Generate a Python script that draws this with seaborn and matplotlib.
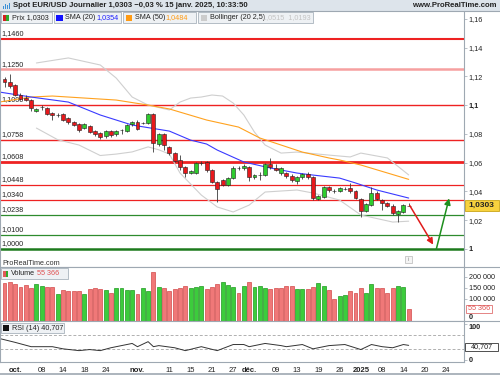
import numpy as np
import pandas as pd
import matplotlib
matplotlib.use("Agg")
from matplotlib import pyplot as plt
from matplotlib.patches import Rectangle
import seaborn as sns

### data ###
# daily EUR/USD candles, 27 sept. 2024 -> 15 janv. 2025 (no 25 dec / 1 jan session)
opens = [1.1182, 1.1162, 1.1141, 1.1071, 1.1050, 1.1036, 1.0960, 1.0985, 1.0981, 1.0946,
         1.0934, 1.0939, 1.0911, 1.0883, 1.0869, 1.0841, 1.0855, 1.0820, 1.0807, 1.0786,
         1.0820, 1.0800, 1.0825, 1.0820, 1.0869, 1.0883, 1.0874, 1.0876, 1.0939, 1.0730,
         1.0800, 1.0709, 1.0667, 1.0619, 1.0570, 1.0528, 1.0528, 1.0595, 1.0605, 1.0549,
         1.0466, 1.0479, 1.0445, 1.0493, 1.0560, 1.0563, 1.0570, 1.0500, 1.0512, 1.0514,
         1.0591, 1.0563, 1.0528, 1.0528, 1.0507, 1.0472, 1.0500, 1.0521, 1.0500, 1.0347,
         1.0361, 1.0431, 1.0401, 1.0403, 1.0415, 1.0424, 1.0403, 1.0347, 1.0264, 1.0305,
         1.0389, 1.0340, 1.0319, 1.0298, 1.0243, 1.0257, 1.0300]
highs = [1.1196, 1.1217, 1.1148, 1.1085, 1.1071, 1.1043, 1.0981, 1.1001, 1.0988, 1.0953,
         1.0946, 1.0946, 1.0918, 1.0890, 1.0876, 1.0876, 1.0862, 1.0827, 1.0814, 1.0827,
         1.0827, 1.0827, 1.0834, 1.0869, 1.0890, 1.0897, 1.0883, 1.0946, 1.0946, 1.0807,
         1.0807, 1.0716, 1.0674, 1.0653, 1.0577, 1.0549, 1.0605, 1.0612, 1.0612, 1.0556,
         1.0472, 1.0486, 1.0500, 1.0577, 1.0577, 1.0591, 1.0577, 1.0521, 1.0535, 1.0598,
         1.0633, 1.0591, 1.0570, 1.0535, 1.0521, 1.0507, 1.0528, 1.0535, 1.0507, 1.0375,
         1.0438, 1.0438, 1.0417, 1.0431, 1.0431, 1.0459, 1.0410, 1.0354, 1.0319, 1.0431,
         1.0403, 1.0347, 1.0326, 1.0312, 1.0271, 1.0312, 1.0319]
lows = [1.1127, 1.1120, 1.1064, 1.1036, 1.1029, 1.0960, 1.0953, 1.0967, 1.0932, 1.0897,
        1.0918, 1.0890, 1.0869, 1.0855, 1.0814, 1.0834, 1.0807, 1.0786, 1.0765, 1.0772,
        1.0779, 1.0786, 1.0800, 1.0814, 1.0855, 1.0827, 1.0869, 1.0869, 1.0674, 1.0716,
        1.0688, 1.0653, 1.0605, 1.0549, 1.0500, 1.0521, 1.0521, 1.0584, 1.0535, 1.0459,
        1.0326, 1.0438, 1.0438, 1.0486, 1.0549, 1.0549, 1.0472, 1.0486, 1.0479, 1.0507,
        1.0556, 1.0542, 1.0514, 1.0493, 1.0466, 1.0452, 1.0486, 1.0486, 1.0340, 1.0340,
        1.0354, 1.0396, 1.0389, 1.0396, 1.0410, 1.0389, 1.0347, 1.0222, 1.0257, 1.0298,
        1.0340, 1.0271, 1.0292, 1.0236, 1.0187, 1.0250, 1.0298]
closes = [1.1162, 1.1134, 1.1071, 1.1043, 1.1036, 1.0981, 1.0974, 1.0988, 1.0939, 1.0932,
          1.0932, 1.0897, 1.0883, 1.0862, 1.0827, 1.0869, 1.0814, 1.0800, 1.0779, 1.0820,
          1.0793, 1.0820, 1.0827, 1.0862, 1.0883, 1.0834, 1.0876, 1.0939, 1.0737, 1.0800,
          1.0723, 1.0667, 1.0612, 1.0570, 1.0528, 1.0542, 1.0598, 1.0598, 1.0549, 1.0466,
          1.0417, 1.0445, 1.0493, 1.0563, 1.0563, 1.0577, 1.0500, 1.0514, 1.0514, 1.0591,
          1.0570, 1.0549, 1.0563, 1.0507, 1.0479, 1.0500, 1.0521, 1.0500, 1.0354, 1.0368,
          1.0431, 1.0410, 1.0403, 1.0424, 1.0417, 1.0403, 1.0354, 1.0264, 1.0312, 1.0389,
          1.0347, 1.0319, 1.0298, 1.0250, 1.0264, 1.0305, 1.0303]
volumes = [171200, 175700, 166650, 153000, 163600, 148500, 166650, 160600, 153000, 156000,
           121200, 139400, 137900, 136400, 137900, 121200, 145400, 151500, 145400, 139400,
           128800, 151500, 151500, 139400, 139400, 122700, 151500, 136400, 221200, 156000,
           148500, 137900, 145400, 148500, 160600, 148500, 156000, 160600, 145400, 153000,
           166650, 175700, 162100, 153000, 125700, 160600, 175700, 156000, 159000, 148500,
           143900, 151500, 148500, 160600, 160600, 143900, 145400, 145400, 153000, 171200,
           160600, 140900, 100000, 113600, 118200, 136400, 125700, 148500, 128800, 168200,
           148500, 148500, 125700, 151500, 160600, 153000, 55366]
vol_colors = ("rrrrrr" "gg" "rr" "g" "rrrr" "g" "rrr" "g" "r" "gggg" "r" "gg" "r" "g"
              "rrrrr" "ggg" "rrr" "ggg" "r" "g" "r" "ggg" "rrrrr" "gg" "rr" "gg" "rr"
              "gg" "rrr" "gg" "rrrr" "gg" "r")

# indicators at a few sessions (session index, value)
sma20_x = [-1, 5, 12, 18, 24, 31, 35, 38, 40, 45, 50, 55, 58, 63, 66, 70, 76]
sma20_y = [1.1092, 1.1057, 1.1022, 1.0932, 1.0862, 1.0820, 1.0757, 1.0730, 1.0688, 1.0605,
           1.0563, 1.0528, 1.0514, 1.0493, 1.0459, 1.0410, 1.0354]
sma50_x = [-1, 5, 9, 15, 21, 27, 31, 38, 44, 48, 52, 56, 61, 63, 67, 76]
sma50_y = [1.1022, 1.1057, 1.1064, 1.1050, 1.1036, 1.1001, 1.0974, 1.0897, 1.0848, 1.0772,
           1.0723, 1.0674, 1.0633, 1.0619, 1.0584, 1.0484]
boll_up_x = [6, 12, 18, 21, 24, 27, 31, 33, 35, 37, 39, 41, 43, 45, 47, 49, 52, 55, 61, 65,
             67, 72, 76]
boll_up_y = [1.1294, 1.1329, 1.1280, 1.1189, 1.1057, 1.1001, 1.0967, 1.1022, 1.1050, 1.1057,
             1.1071, 1.1064, 1.1015, 1.0932, 1.0813, 1.0723, 1.0667, 1.0674, 1.0653, 1.0640,
             1.0667, 1.0633, 1.0515]
boll_lo_x = [6, 10, 14, 18, 21, 24, 27, 29, 31, 33, 37, 40, 43, 46, 49, 55, 58, 63, 67, 73, 76]
boll_lo_y = [1.0841, 1.0760, 1.0723, 1.0650, 1.0660, 1.0675, 1.0710, 1.0690, 1.0660, 1.0528,
             1.0375, 1.0292, 1.0257, 1.0305, 1.0396, 1.0410, 1.0389, 1.0340, 1.0236, 1.0187,
             1.0193]
rsi_x = [-1, 2, 5, 9, 11, 14, 16, 18, 20, 24, 25, 27, 28, 29, 32, 34, 37, 40, 43, 45, 46, 49,
         52, 53, 56, 58, 61, 64, 67, 69, 71, 73, 75, 76]
rsi_y = [60, 49, 37, 37, 31, 26, 29, 26, 34, 46, 37, 51, 37, 40, 34, 26, 37, 26, 43, 43, 37,
         46, 40, 37, 43, 31, 40, 43, 29, 43, 37, 34, 43, 40.707]

# support / resistance lines drawn by the user
levels = [1.1460, 1.1250, 1.1000, 1.0758, 1.0608, 1.0448, 1.0340, 1.0238, 1.0100, 1.0000]
level_labels = ["1,1460", "1,1250", "1,1000", "1,0758", "1,0608", "1,0448", "1,0340",
                "1,0238", "1,0100", "1,0000"]
level_colors = ["#ee2222", "#f6a0a0", "#ee2222", "#ee2222", "#ee2222", "#ee2222", "#ee2222",
                "#2e8b2e", "#2e8b2e", "#1d7a1d"]
level_widths = [1.5, 1.8, 1.0, 1.0, 2.0, 0.9, 0.9, 0.9, 0.9, 1.8]

tick_dates = ["2024-10-01", "2024-10-08", "2024-10-14", "2024-10-18", "2024-10-24",
              "2024-11-01", "2024-11-11", "2024-11-15", "2024-11-21", "2024-11-27",
              "2024-12-02", "2024-12-09", "2024-12-13", "2024-12-19", "2024-12-26",
              "2025-01-02", "2025-01-08", "2025-01-14", "2025-01-20", "2025-01-24"]
tick_labels = ["oct.", "08", "14", "18", "24", "nov.", "11", "15", "21", "27", "déc.", "09",
               "13", "19", "26", "2025", "08", "14", "20", "24"]

### style ###
sns.set_style("white")
plt.rcParams['font.family'] = ['Liberation Sans', 'DejaVu Sans']
GRID = "#9ea8b2"
TXT = "#222222"
FS = 5.2

sessions = pd.bdate_range("2024-09-27", "2025-02-07")
sessions = sessions[~sessions.isin(pd.to_datetime(["2024-12-25", "2025-01-01"]))]
tick_pos = [sessions.get_loc(pd.Timestamp(d)) for d in tick_dates]

o = np.array(opens); h = np.array(highs); l = np.array(lows); c = np.array(closes)
idx = np.arange(len(c))
XLIM = (-0.85, 86.4)

fig = plt.figure(figsize=(5, 3.75), dpi=100)

def px(left, top, right, bottom):
    return [left / 500, 1 - bottom / 375, (right - left) / 500, (bottom - top) / 375]

ax_p = fig.add_axes(px(0, 11, 464, 267))
ax_v = fig.add_axes(px(0, 267, 464, 321))
ax_r = fig.add_axes(px(0, 321, 464, 362))

### price panel ###
for lv, lc, lw, lab in zip(levels, level_colors, level_widths, level_labels):
    ax_p.axhline(lv, color=lc, lw=lw, zorder=1)
    ax_p.text(0.004, lv + 0.0012, lab, transform=ax_p.get_yaxis_transform(),
              fontsize=FS, color=TXT, va='bottom', ha='left', zorder=2)

sns.lineplot(x=boll_up_x, y=boll_up_y, ax=ax_p, color="#cfcfcf", lw=0.8, zorder=2)
sns.lineplot(x=boll_lo_x, y=boll_lo_y, ax=ax_p, color="#cfcfcf", lw=0.8, zorder=2)
sns.lineplot(x=sma50_x, y=sma50_y, ax=ax_p, color="#ffa21f", lw=0.8, zorder=2)
sns.lineplot(x=sma20_x, y=sma20_y, ax=ax_p, color="#3a3aff", lw=0.8, zorder=2)

doji = np.abs(c - o) < 0.0004
body_lo = np.minimum(o, c)
body_h = np.where(doji, 0.00012, np.abs(c - o))
body_col = np.where(doji, "#222222", np.where(c > o, "#2ecc2e", "#e8181c"))
ax_p.vlines(idx, l, h, color="#3a3a3a", lw=0.6, zorder=3)
ax_p.bar(idx, body_h, bottom=body_lo, width=0.74, color=body_col,
         edgecolor="#202020", lw=0.4, zorder=4)

ax_p.annotate("", xy=(80.6, 1.0030), xytext=(76.2, 1.0302),
              arrowprops=dict(arrowstyle="-|>", color="#e01b1b", lw=1.1, mutation_scale=9,
                              shrinkA=0, shrinkB=0), zorder=5)
ax_p.annotate("", xy=(83.6, 1.0352), xytext=(81.2, 1.0000),
              arrowprops=dict(arrowstyle="-|>", color="#1e8f1e", lw=1.1, mutation_scale=9,
                              shrinkA=0, shrinkB=0), zorder=5)

ax_p.set_xlim(*XLIM)
ax_p.set_ylim(0.98742, 1.16557)
ax_p.yaxis.tick_right()
pticks = [1.0, 1.02, 1.04, 1.06, 1.08, 1.10, 1.12, 1.14, 1.16]
ax_p.set_yticks(pticks)
ax_p.set_yticklabels(["1", "1,02", "1,04", "1,06", "1,08", "1,1", "1,12", "1,14", "1,16"])
for t in ax_p.get_yticklabels():
    if t.get_text() in ("1", "1,1"):
        t.set_fontweight("bold")
ax_p.set_xticks([])

### volume panel ###
vcol = ["#3ccc3c" if k == "g" else "#f07878" for k in vol_colors]
vedge = ["#1f9a1f" if k == "g" else "#d24a4a" for k in vol_colors]
ax_v.bar(idx, volumes, width=0.74, color=vcol, edgecolor=vedge, lw=0.5, zorder=3)
ax_v.set_xlim(*XLIM)
ax_v.set_ylim(0, 245400)
ax_v.yaxis.tick_right()
ax_v.set_yticks([0, 100000, 150000, 200000])
ax_v.set_yticklabels(["0", "100 000", "150 000", "200 000"])
vzero = ax_v.get_yticklabels()[0]
vzero.set_fontweight("bold")
vzero.set_verticalalignment("bottom")
ax_v.set_xticks([])

### RSI panel ###
ax_r.axhline(70, color="#b0b0b0", lw=0.7, ls=(0, (3, 2)))
ax_r.axhline(30, color="#b0b0b0", lw=0.7, ls=(0, (3, 2)))
sns.lineplot(x=rsi_x, y=rsi_y, ax=ax_r, color="#333333", lw=0.7)
ax_r.set_xlim(*XLIM)
ax_r.set_ylim(-5.7, 108.6)
ax_r.yaxis.tick_right()
ax_r.set_yticks([0, 100])
ax_r.set_yticklabels(["0", "100"], fontweight="bold")
ax_r.get_yticklabels()[1].set_verticalalignment("top")
ax_r.set_xticks(tick_pos)
ax_r.set_xticklabels(tick_labels)
for t in ax_r.get_xticklabels():
    if not t.get_text().isdigit() or t.get_text() == "2025":
        t.set_fontweight("bold")

for ax in (ax_p, ax_v, ax_r):
    ax.set_facecolor("white")
    ax.set_xlabel(""); ax.set_ylabel("")
    ax.tick_params(axis="y", labelsize=FS, length=2, width=0.5, color=GRID, pad=1.5,
                   labelcolor=TXT)
    ax.tick_params(axis="x", labelsize=FS + 0.3, length=2, width=0.5, color=GRID, pad=1.5,
                   labelcolor=TXT)
    for s in ax.spines.values():
        s.set_color(GRID)
        s.set_linewidth(0.8)
    ax.spines["top"].set_visible(False)

### overlay: header, legends, value boxes ###
ov = fig.add_axes([0, 0, 1, 1])
ov.set_xlim(0, 500); ov.set_ylim(375, 0)
ov.axis("off")
ov.patch.set_alpha(0)
ov.set_zorder(10)

ov.add_patch(Rectangle((0, 0), 500, 10.5, color="#dde4eb", lw=0))
ov.plot([0, 500], [10.5, 10.5], color=GRID, lw=0.8)
for bx, bh in zip([2.5, 4.5, 6.5, 8.5], [3, 5, 4, 6]):
    ov.add_patch(Rectangle((bx, 8.5 - bh), 1.3, bh, color="#3b8fd6", lw=0))
ov.text(13, 5.5, "Spot EUR/USD Journalier 1,0303 \u22120,03 % 15 janv. 2025, 10:33:50",
        fontsize=5.6, fontweight="bold", color=TXT, va="center", ha="left")
ov.text(497, 5.5, "www.ProRealTime.com", fontsize=5.6, fontweight="bold", color=TXT,
        va="center", ha="right")

def legend_box(x0, x1, y0, y1):
    ov.add_patch(Rectangle((x0, y0), x1 - x0, y1 - y0, facecolor="#eef1f4",
                           edgecolor="#a9b3bd", lw=0.6))

legend_box(0.5, 52, 12, 23)
ov.add_patch(Rectangle((3, 14.5), 3, 6.5, color="#d42020", lw=0))
ov.add_patch(Rectangle((6, 14.5), 3, 6.5, color="#2eaa2e", lw=0))
ov.text(11.5, 17.8, "Prix 1,0303", fontsize=FS, color=TXT, va="center")
legend_box(54, 121, 12, 23)
ov.add_patch(Rectangle((56, 14.5), 6.5, 6.5, color="#1010ff", lw=0))
ov.text(65, 17.8, "SMA (20)", fontsize=FS, color=TXT, va="center")
ov.text(96.5, 17.8, "1,0354", fontsize=FS, color="#2020ff", va="center")
legend_box(123, 196, 12, 23)
ov.add_patch(Rectangle((125.5, 14.5), 6.5, 6.5, color="#ff9b14", lw=0))
ov.text(135, 17.8, "SMA (50)", fontsize=FS, color=TXT, va="center")
ov.text(165.5, 17.8, "1,0484", fontsize=FS, color="#ff9b14", va="center")
legend_box(198, 313, 12, 23)
ov.add_patch(Rectangle((200.5, 14.5), 6.5, 6.5, color="#cccccc", lw=0))
ov.text(210, 17.8, "Bollinger (20 2,5)", fontsize=FS, color=TXT, va="center")
ov.text(262, 17.8, "1,0515  1,0193", fontsize=FS, color="#c4c4c4", va="center")

ov.text(2, 263.5, "ProRealTime.com", fontsize=FS, color="#333333", va="center")
ov.add_patch(Rectangle((405, 256), 7, 7, facecolor="#f4f4f4", edgecolor="#b8b8b8", lw=0.5))
ov.text(408.5, 259.6, "i", fontsize=4, color="#888888", ha="center", va="center")

legend_box(0.5, 68, 268, 279)
ov.add_patch(Rectangle((3, 270.5), 2.5, 6.5, color="#e05a5a", lw=0))
ov.add_patch(Rectangle((5.5, 270.5), 2.5, 6.5, color="#2eaa2e", lw=0))
ov.text(11, 273.8, "Volume", fontsize=FS, color=TXT, va="center")
ov.text(37, 273.8, "55 366", fontsize=FS, color="#e05050", va="center")

legend_box(0.5, 64, 322.5, 333)
ov.add_patch(Rectangle((3, 324.5), 6, 6, color="#111111", lw=0))
ov.text(12, 328, "RSI (14) 40,707", fontsize=FS, color=TXT, va="center")

ov.add_patch(Rectangle((465, 199.5), 33.5, 11.5, facecolor="#f7d23e", edgecolor="#c9a418",
                       lw=0.6))
ov.text(481.8, 205.4, "1,0303", fontsize=6, fontweight="bold", color=TXT,
        ha="center", va="center")
ov.add_patch(Rectangle((466, 304.5), 26, 8, facecolor="white", edgecolor="#e07070", lw=0.6))
ov.text(479, 308.6, "55 366", fontsize=FS, color="#e05050", ha="center", va="center")
ov.add_patch(Rectangle((465, 342.5), 33, 8, facecolor="white", edgecolor="#333333", lw=0.6))
ov.text(481.5, 346.6, "40,707", fontsize=FS, color=TXT, ha="center", va="center")

for yy in (267, 321):
    ov.plot([0, 500], [yy, yy], color=GRID, lw=0.8)
ov.plot([0, 500], [373.5, 373.5], color=GRID, lw=1.2)

fig.savefig("out.png", dpi=100, facecolor="white")
